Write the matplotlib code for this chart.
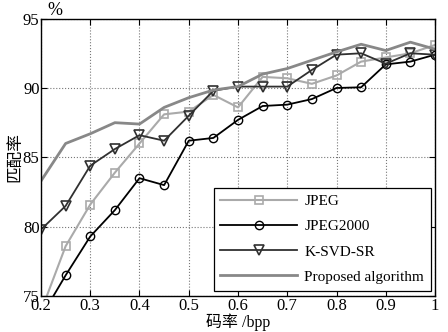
import matplotlib
matplotlib.use("Agg")
import matplotlib.pyplot as plt

plt.rcParams['font.family'] = ['Liberation Serif', 'Noto Sans CJK SC']

rate = [0.2, 0.25, 0.3, 0.35, 0.4, 0.45, 0.5, 0.55, 0.6, 0.65, 0.7, 0.75, 0.8, 0.85, 0.9, 0.95, 1.0]
jpeg = [73.9, 78.6, 81.6, 83.9, 86.0, 88.1, 88.3, 89.5, 88.6, 90.8, 90.7, 90.3, 90.9, 91.9, 92.2, 92.5, 93.1]
jpeg2000 = [73.5, 76.5, 79.3, 81.2, 83.5, 83.0, 86.2, 86.4, 87.7, 88.7, 88.8, 89.2, 90.0, 90.05, 91.7, 91.9, 92.4]
ksvd = [79.8, 81.5, 84.4, 85.6, 86.6, 86.2, 88.0, 89.8, 90.1, 90.1, 90.1, 91.3, 92.4, 92.5, 91.75, 92.5, 92.4]
proposed = [83.3, 86.0, 86.7, 87.5, 87.4, 88.6, 89.3, 89.85, 90.1, 91.0, 91.4, 92.0, 92.6, 93.15, 92.7, 93.3, 92.8]

xticks = [0.2, 0.3, 0.4, 0.5, 0.6, 0.7, 0.8, 0.9, 1.0]
xticklabels = ["0.2", "0.3", "0.4", "0.5", "0.6", "0.7", "0.8", "0.9", "1"]
yticks = [75, 80, 85, 90, 95]

fig = plt.figure(figsize=(4.48, 3.32), dpi=100)
ax = fig.add_axes([0.0915, 0.108, 0.8795, 0.836])

ax.plot(rate, jpeg, color="#aaaaaa", lw=1.5, marker="s", ms=6, mfc="none", mec="#aaaaaa", mew=1.2, label="JPEG")
ax.plot(rate, jpeg2000, color="black", lw=1.3, marker="o", ms=6, mfc="none", mec="black", mew=1.0, label="JPEG2000")
ax.plot(rate, ksvd, color="#303030", lw=1.3, marker="v", ms=7, mfc="none", mec="#303030", mew=1.2, label="K-SVD-SR")
ax.plot(rate, proposed, color="#888888", lw=2.0, label="Proposed algorithm")

ax.set_xlim(0.2, 1.0)
ax.set_ylim(75, 95)
ax.set_xticks(xticks)
ax.set_xticklabels(xticklabels)
ax.set_yticks(yticks)
ax.tick_params(direction="in", top=True, right=True, labelsize=12, length=4, pad=1)
ax.grid(True, linestyle=":", color="#777777", lw=0.8)
for s in ax.spines.values():
    s.set_linewidth(1.0)

ax.set_xlabel("码率 /bpp", fontsize=11.5, labelpad=0)
ax.set_ylabel("匹配率", fontsize=12, labelpad=0)
ax.text(0.015, 1.0, "%", transform=ax.transAxes, fontsize=13, ha="left", va="bottom")

leg = ax.legend(loc="lower right", fontsize=11, numpoints=1, fancybox=False, framealpha=1,
                edgecolor="black", handlelength=5.0, handletextpad=0.5, borderpad=0.45,
                labelspacing=0.75, borderaxespad=0.0, bbox_to_anchor=(0.99, 0.02))
leg.get_frame().set_linewidth(0.9)

fig.savefig("out.png", dpi=100)
